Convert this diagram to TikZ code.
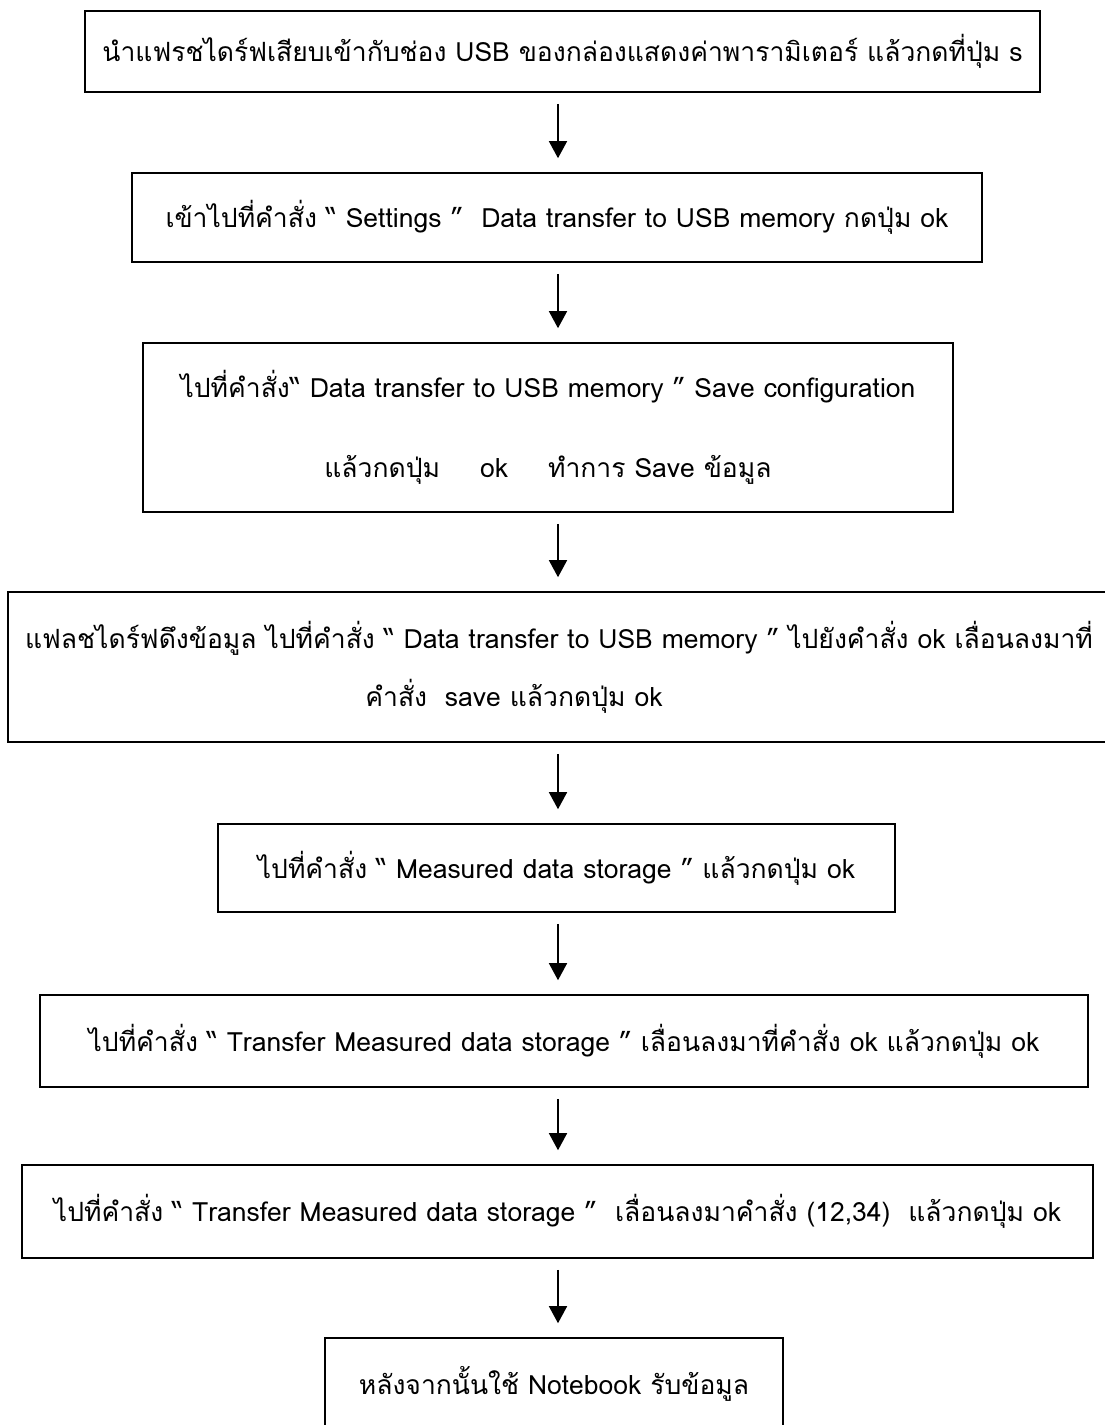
\documentclass[tikz,border=0pt]{standalone}
\usepackage{fontspec}
\newfontfamily\thaifont[Script=Thai]{Loma}
\usetikzlibrary{arrows.meta}

\begin{document}
\begin{tikzpicture}[x=1pt,y=-1pt,
  stepbox/.style={draw,rectangle,line width=1.6pt,inner sep=0pt,align=center,
    font=\thaifont\fontsize{26.5}{32}\selectfont},
  flowarrow/.style={line width=1.5pt,-{Triangle[width=18pt,length=17pt]},
    shorten <=11pt,shorten >=14pt}]
  \useasboundingbox (0,0) rectangle (1105,1425);
  \coordinate (ax) at (558,0);
  \node[stepbox,minimum width=955pt,minimum height=81pt] (b1) at (562.5,51.5)
    {นำแฟรชไดร์ฟเสียบเข้ากับช่อง USB ของกล่องแสดงค่าพารามิเตอร์ แล้วกดที่ปุ่ม s};
  \node[stepbox,minimum width=850pt,minimum height=89pt] (b2) at (557,217.5)
    {เข้าไปที่คำสั่ง “ Settings ”\ \ Data transfer to USB memory กดปุ่ม ok};
  \node[stepbox,minimum width=810pt,minimum height=169pt] (b3) at (548,427.5)
    {ไปที่คำสั่ง“ Data transfer to USB memory ” Save configuration\\[48pt]
     แล้วกดปุ่ม\hspace{40pt}ok\hspace{40pt}ทำการ Save ข้อมูล};
  \node[stepbox,minimum width=1102pt,minimum height=150pt] (b4) at (559,667)
    {แฟลชไดร์ฟดึงข้อมูล ไปที่คำสั่ง “ Data transfer to USB memory ” ไปยังคำสั่ง ok เลื่อนลงมาที่\\[23pt]
     คำสั่ง\ \ save แล้วกดปุ่ม ok\hspace*{90pt}};
  \node[stepbox,minimum width=677pt,minimum height=88pt] (b5) at (556.5,868)
    {ไปที่คำสั่ง “ Measured data storage ” แล้วกดปุ่ม ok};
  \node[stepbox,minimum width=1048pt,minimum height=92pt] (b6) at (564,1041)
    {ไปที่คำสั่ง “ Transfer Measured data storage ” เลื่อนลงมาที่คำสั่ง ok แล้วกดปุ่ม ok};
  \node[stepbox,minimum width=1071pt,minimum height=93pt] (b7) at (557.5,1211.5)
    {ไปที่คำสั่ง “ Transfer Measured data storage ”\ \ เลื่อนลงมาคำสั่ง (12,34)\ \ แล้วกดปุ่ม ok};
  \node[stepbox,minimum width=458pt,minimum height=92pt] (b8) at (554,1384)
    {หลังจากนั้นใช้ Notebook รับข้อมูล};
  % arrows between steps
  \foreach \a/\b in {b1/b2,b2/b3,b3/b4,b4/b5,b5/b6,b6/b7,b7/b8}
    \draw[flowarrow] (\a.south -| ax) -- (\b.north -| ax);
\end{tikzpicture}
\end{document}
